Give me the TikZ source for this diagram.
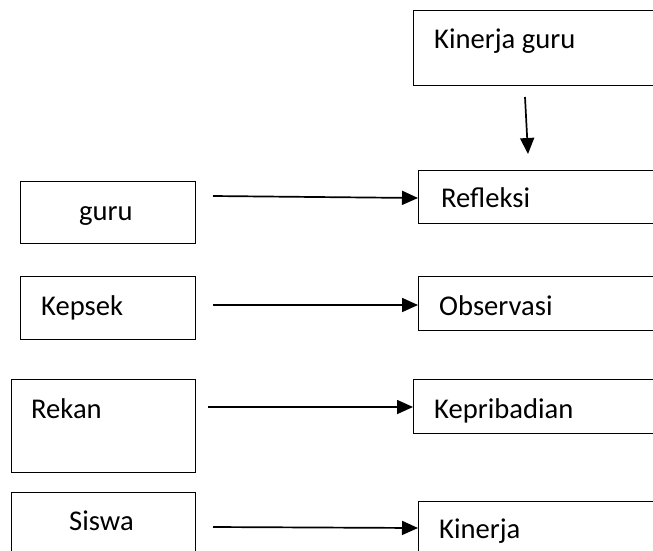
\documentclass[tikz,border=0pt]{standalone}
\usepackage{fontspec}
\setmainfont{Carlito}
\usetikzlibrary{arrows.meta}
\begin{document}
\begin{tikzpicture}[x=1pt,y=-1pt,
  box/.style={draw=black,line width=1.2pt,inner sep=0pt,anchor=north west},
  lbl/.style={anchor=base west,inner sep=0pt,font=\fontsize{28.6}{32}\selectfont},
  conn/.style={line width=1.7pt,-{Triangle[length=16pt,width=14pt]}}]
\useasboundingbox (0,0) rectangle (653,550);
\clip (0,0) rectangle (653,550);
% right column
\node[box,minimum width=260pt,minimum height=75pt] (kg) at (413,10) {};
\node[lbl] (kgt) at (434,48) {Kinerja guru};
\node[box,minimum width=260pt,minimum height=53pt] (ref) at (418,170) {};
\node[lbl] (reft) at (441,207) {Refleksi};
\node[box,minimum width=260pt,minimum height=54pt] (obs) at (418,276) {};
\node[lbl] (obst) at (439,315) {Observasi};
\node[box,minimum width=260pt,minimum height=54pt] (kep) at (413,379) {};
\node[lbl] (kept) at (434,418) {Kepribadian};
\node[box,minimum width=260pt,minimum height=80pt] (kin) at (418,501) {};
\node[lbl] (kint) at (439,538) {Kinerja};
% left column
\node[box,minimum width=175pt,minimum height=62pt] (guru) at (20,181) {};
\node[lbl] (gurut) at (79,220) {guru};
\node[box,minimum width=175pt,minimum height=63pt] (kps) at (20,276) {};
\node[lbl] (kpst) at (41,315) {Kepsek};
\node[box,minimum width=184pt,minimum height=93pt] (rek) at (11,379) {};
\node[lbl] (rekt) at (31,418) {Rekan};
\node[box,minimum width=184pt,minimum height=80pt] (sis) at (11,492) {};
\node[lbl] (sist) at (69,530) {Siswa};
% connectors
\coordinate (d0) at (525,97);
\coordinate (d1) at (528,154);
\draw[conn] (d0) -- (d1);
\coordinate (a1) at (213,196);
\coordinate (b1) at (418,198);
\draw[conn] (a1) -- (b1);
\coordinate (a2) at (213,305);
\draw[conn] (a2) -- (obs.west|-a2);
\coordinate (a3) at (208,407);
\draw[conn] (a3) -- (kep.west|-a3);
\coordinate (a4) at (213,527);
\coordinate (b4) at (418,528);
\draw[conn] (a4) -- (b4);
\end{tikzpicture}
\end{document}
